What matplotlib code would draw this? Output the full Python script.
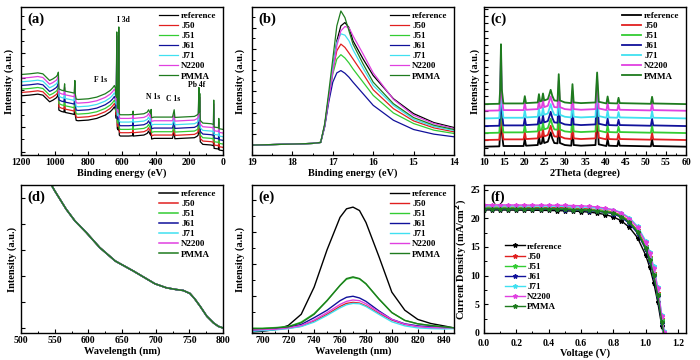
import matplotlib
matplotlib.use("Agg")
import matplotlib.pyplot as plt
import numpy as np
from matplotlib.ticker import MultipleLocator

plt.rcParams['font.family'] = ['Liberation Serif', 'DejaVu Serif']
plt.rcParams['font.weight'] = 'bold'
plt.rcParams['axes.labelweight'] = 'bold'

names = ['reference', 'J50', 'J51', 'J61', 'J71', 'N2200', 'PMMA']
colors = ['#000000', '#e02020', '#33cc33', '#10109a', '#40e0f0', '#e040e0', '#1e7b1e']

# (a) XPS survey: reference profile + stacking offsets
energy_a = [1200, 1150, 1100, 1070, 1040, 1030, 1010, 990, 982, 978, 975, 960, 945, 941, 938,
            900, 884, 880, 877, 872, 860, 800, 750, 700, 670, 655, 645, 638, 634, 631, 628,
            622, 619, 616, 610, 560, 536, 534, 532, 470, 450, 442, 436, 430, 427, 424, 410,
            300, 290, 286, 170, 155, 147, 143, 140, 138, 135, 120, 70, 57, 55, 53, 27, 25, 23, 0]
survey_a = [178, 180, 183, 180, 165, 160, 165, 172, 178, 185, 135, 131, 129, 150, 128,
            124, 122, 160, 118, 104, 103, 105, 110, 120, 130, 138, 145, 135, 110, 306, 80,
            75, 321, 60, 57, 57, 58, 68, 57, 60, 65, 72, 65, 60, 73, 48, 50,
            50, 72, 49, 52, 56, 60, 139, 65, 121, 40, 32, 30, 28, 101, 20, 18, 46, 15, 13]
offsets_a = [0, 10, 20, 31, 42, 53, 64]

# (b) UPS cut-off region
energy_b = [19, 18, 17.5, 17.3, 17.2, 17.1, 17.0, 16.9, 16.8, 16.7, 16.6, 16.5, 16.25, 16.0, 15.5, 15.0, 14.5, 14.0]
ups_b = {
    'reference': [30, 33, 35, 38, 90, 175, 260, 345, 390, 400, 385, 345, 290, 240, 170, 125, 98, 83],
    'J50': [30, 33, 35, 38, 90, 175, 255, 315, 335, 325, 308, 290, 245, 197, 140, 103, 82, 70],
    'J51': [30, 33, 35, 38, 88, 170, 245, 290, 303, 293, 278, 260, 220, 180, 127, 95, 75, 65],
    'J61': [30, 33, 35, 38, 85, 160, 220, 248, 255, 247, 235, 220, 185, 150, 105, 77, 63, 55],
    'J71': [30, 33, 35, 38, 90, 178, 265, 340, 366, 362, 345, 318, 262, 210, 150, 108, 86, 74],
    'N2200': [30, 33, 35, 38, 88, 170, 250, 330, 375, 388, 385, 360, 305, 248, 168, 120, 95, 80],
    'PMMA': [30, 33, 35, 38, 95, 190, 290, 390, 435, 415, 375, 335, 275, 220, 155, 113, 90, 77],
}

# (c) XRD: reference pattern + stacking offsets
theta_c = [10, 13.8, 14.0, 14.2, 14.4, 14.8, 19.8, 20.1, 20.4, 23.3, 23.6, 23.9, 24.3, 24.6, 24.9,
           25.8, 26.2, 26.5, 26.9, 27.4, 28.2, 28.5, 28.8, 30, 31.6, 31.9, 32.2, 34, 37.6, 38.0,
           38.4, 40.3, 40.6, 40.9, 43.0, 43.3, 43.6, 51.3, 51.6, 51.9, 60]
xrd_c = [25, 26, 70, 205, 70, 27, 27, 49, 28, 30, 55, 33, 35, 57, 36,
         40, 55, 68, 50, 36, 35, 115, 36, 30, 28, 85, 30, 28, 30, 120,
         32, 27, 48, 28, 27, 44, 28, 26, 47, 27, 25]
offsets_c = [0, 20, 41, 62, 85, 108, 128]

# (d) absorption (all samples overlap)
wl_d = [540, 550, 567, 580, 597, 617, 640, 667, 699, 716, 730, 741, 751, 758, 766, 776, 786, 793, 800]
abs_d = [460, 425, 370, 335, 300, 255, 215, 185, 147, 135, 130, 127, 118, 102, 80, 50, 30, 20, 15]

# (e) PL
wl_e = [692, 700, 710, 720, 730, 740, 750, 760, 765, 770, 775, 780, 790, 800, 810, 820, 830, 840, 848]
pl_e = {
    'reference': [3, 5, 10, 22, 55, 135, 245, 340, 365, 370, 360, 325, 225, 120, 67, 40, 28, 21, 15],
    'J50': [10, 10, 11, 14, 20, 35, 55, 78, 87, 90, 88, 80, 58, 38, 25, 19, 16, 15, 15],
    'J51': [14, 14, 16, 19, 32, 57, 96, 140, 158, 163, 159, 144, 100, 60, 37, 27, 22, 18, 15],
    'J61': [7, 9, 12, 17, 25, 45, 67, 95, 105, 108, 103, 93, 65, 40, 27, 21, 18, 16, 15],
    'J71': [5, 7, 9, 13, 19, 32, 52, 74, 83, 87, 86, 78, 55, 33, 21, 15, 13, 12, 13],
    'N2200': [9, 10, 11, 15, 22, 38, 60, 84, 93, 97, 95, 86, 62, 40, 26, 19, 16, 15, 15],
    'PMMA': [13, 13, 15, 18, 30, 55, 95, 140, 160, 165, 160, 145, 100, 60, 37, 27, 22, 18, 15],
}

# (f) J-V curves
volt_f = [0, 0.05, 0.1, 0.15, 0.2, 0.25, 0.3, 0.35, 0.4, 0.45, 0.5, 0.55, 0.6, 0.65, 0.7, 0.75,
          0.8, 0.85, 0.9, 0.95, 1.0, 1.025, 1.05, 1.075, 1.1, 1.115]
jv_f = {
    'reference': [21.45, 21.45, 21.44, 21.43, 21.42, 21.41, 21.4, 21.38, 21.36, 21.33, 21.3, 21.25, 21.18,
                  21.07, 20.9, 20.65, 20.25, 19.55, 18.4, 16.6, 13.6, 11.5, 8.8, 5.4, 1.2, -1.0],
    'J50': [21.95, 21.95, 21.94, 21.93, 21.92, 21.91, 21.9, 21.89, 21.87, 21.85, 21.82, 21.77, 21.7,
            21.62, 21.5, 21.35, 21.1, 20.5, 19.5, 17.9, 15.2, 13.2, 10.5, 7.0, 2.4, -0.2],
    'J51': [21.8, 21.8, 21.79, 21.78, 21.77, 21.76, 21.75, 21.74, 21.72, 21.7, 21.67, 21.62, 21.56,
            21.48, 21.37, 21.22, 21.0, 20.4, 19.4, 17.8, 15.0, 13.0, 10.3, 6.8, 2.2, -0.4],
    'J61': [21.65, 21.65, 21.64, 21.63, 21.62, 21.61, 21.6, 21.59, 21.57, 21.55, 21.52, 21.47, 21.4,
            21.32, 21.2, 21.03, 20.8, 20.15, 19.1, 17.4, 14.6, 12.6, 9.9, 6.4, 1.8, -0.8],
    'J71': [22.2, 22.2, 22.19, 22.18, 22.17, 22.16, 22.15, 22.14, 22.12, 22.1, 22.07, 22.03, 21.97,
            21.9, 21.8, 21.68, 21.5, 21.0, 20.1, 18.6, 16.1, 14.2, 11.6, 8.0, 3.2, 0.3],
    'N2200': [22.35, 22.35, 22.34, 22.33, 22.32, 22.31, 22.3, 22.29, 22.28, 22.27, 22.25, 22.22, 22.18,
              22.1, 21.97, 21.78, 21.45, 20.9, 19.95, 18.4, 15.8, 13.9, 11.3, 7.8, 3.0, 0.1],
    'PMMA': [21.7, 21.7, 21.69, 21.68, 21.67, 21.66, 21.65, 21.64, 21.62, 21.6, 21.57, 21.52, 21.45,
             21.37, 21.25, 21.08, 20.9, 20.3, 19.3, 17.6, 14.8, 12.8, 10.1, 6.6, 2.0, -0.6],
}

fig = plt.figure(figsize=(7, 3.6), dpi=100)
W, H = 700.0, 360.0
cols = [21, 252, 484]
rows = [155, 333]
aw, ah = 202, 148
axs = []
for r in rows:
    for c in cols:
        axs.append(fig.add_axes([c / W, 1 - r / H, aw / W, ah / H]))
ax_a, ax_b, ax_c, ax_d, ax_e, ax_f = axs

tick_fs = 7
lab_fs = 7.5
leg_fs = 6.5


def style(ax, letter, ylabel='Intensity (a.u.)', ylabels=False):
    ax.tick_params(which='both', direction='in', top=False, right=False, labelsize=tick_fs, pad=2)
    ax.tick_params(which='major', length=3, width=0.8)
    ax.tick_params(which='minor', length=1.8, width=0.7)
    if not ylabels:
        ax.tick_params(labelleft=False)
    for s in ax.spines.values():
        s.set_linewidth(1.0)
    ax.set_ylabel(ylabel, fontsize=lab_fs, labelpad=3 if not ylabels else 1)
    ax.xaxis.labelpad = 1
    ax.text(0.03, 0.96, letter, transform=ax.transAxes, ha='left', va='top', fontsize=10.5, fontweight='bold')


def legend(ax, **kw):
    leg = ax.legend(frameon=False, fontsize=leg_fs, handlelength=2.2, handletextpad=0.3,
                    labelspacing=0.2, borderaxespad=0.1, **kw)
    return leg


# (a)
for i, n in enumerate(names):
    ax_a.plot(energy_a, np.array(survey_a) + offsets_a[i], color=colors[i], lw=0.9, label=n)
ax_a.set_xlim(1200, 0)
ax_a.set_ylim(0, 445)
ax_a.xaxis.set_major_locator(MultipleLocator(200))
ax_a.xaxis.set_minor_locator(MultipleLocator(100))
ax_a.set_yticks(np.arange(10, 445, 74))
ax_a.set_yticks(np.arange(47, 445, 74), minor=True)
ax_a.set_xlabel('Binding energy (eV)', fontsize=lab_fs)
for txt, ex, ey in [('I 3d', 593, 407), ('F 1s', 726, 225), ('N 1s', 414, 173), ('C 1s', 294, 167), ('Pb 4f', 159, 210)]:
    ax_a.text(ex, ey, txt, fontsize=5.5, ha='center', va='center', fontweight='bold')
style(ax_a, '(a)')
legend(ax_a, loc='upper right', bbox_to_anchor=(0.99, 1.0))

# (b)
for i, n in enumerate(names):
    ax_b.plot(energy_b, ups_b[n], color=colors[i], lw=0.9, label=n)
ax_b.set_xlim(19, 14)
ax_b.set_ylim(0, 447)
ax_b.xaxis.set_major_locator(MultipleLocator(1))
ax_b.xaxis.set_minor_locator(MultipleLocator(0.5))
ax_b.yaxis.set_major_locator(MultipleLocator(64))
ax_b.yaxis.set_minor_locator(MultipleLocator(32))
ax_b.set_xlabel('Binding energy (eV)', fontsize=lab_fs)
style(ax_b, '(b)')
legend(ax_b, loc='upper right', bbox_to_anchor=(0.99, 1.0))

# (c)
for i, n in enumerate(names):
    ax_c.plot(theta_c, np.array(xrd_c) + offsets_c[i], color=colors[i], lw=1.3, label=n)
ax_c.set_xlim(10, 60)
ax_c.set_ylim(0, 445)
ax_c.xaxis.set_major_locator(MultipleLocator(5))
ax_c.xaxis.set_minor_locator(MultipleLocator(2.5))
ax_c.yaxis.set_major_locator(MultipleLocator(22))
ax_c.set_xlabel('2Theta (degree)', fontsize=lab_fs)
style(ax_c, '(c)')
legend(ax_c, loc='upper right', bbox_to_anchor=(0.99, 1.0))

# (d)
for i, n in enumerate(names):
    ax_d.plot(wl_d, abs_d, color=colors[i], lw=1.1, label=n)
ax_d.set_xlim(500, 800)
ax_d.set_ylim(0, 442)
ax_d.xaxis.set_major_locator(MultipleLocator(50))
ax_d.xaxis.set_minor_locator(MultipleLocator(25))
ax_d.set_yticks(np.arange(15, 442, 77.5))
ax_d.set_xlabel('Wavelength (nm)', fontsize=lab_fs)
style(ax_d, '(d)')
legend(ax_d, loc='upper right', bbox_to_anchor=(0.99, 1.0))

# (e)
for i, n in enumerate(names):
    ax_e.plot(wl_e, pl_e[n], color=colors[i], lw=1.0, label=n)
ax_e.set_xlim(692, 848)
ax_e.set_ylim(0, 435)
ax_e.xaxis.set_major_locator(MultipleLocator(20))
ax_e.xaxis.set_minor_locator(MultipleLocator(10))
ax_e.set_yticks(np.arange(15, 435, 94))
ax_e.set_yticks(np.arange(62, 435, 94), minor=True)
ax_e.set_xlabel('Wavelength (nm)', fontsize=lab_fs)
style(ax_e, '(e)')
legend(ax_e, loc='upper right', bbox_to_anchor=(0.99, 1.0))

# (f)
for i, n in enumerate(names):
    ax_f.plot(volt_f, jv_f[n], color=colors[i], lw=1.0, marker='*', ms=3.2, label=n)
ax_f.set_xlim(0, 1.25)
ax_f.set_ylim(0, 25.8)
ax_f.xaxis.set_major_locator(MultipleLocator(0.2))
ax_f.xaxis.set_minor_locator(MultipleLocator(0.1))
ax_f.yaxis.set_major_locator(MultipleLocator(5))
ax_f.yaxis.set_minor_locator(MultipleLocator(2.5))
style(ax_f, '(f)', ylabel='Current Density (mA/cm$^2$)', ylabels=True)
ax_f.tick_params(axis='x', pad=4.5)
ax_f.tick_params(axis='y', pad=3)
ax_f.set_xlabel('Voltage (V)', fontsize=lab_fs, labelpad=0)
legend(ax_f, loc='center left', bbox_to_anchor=(0.08, 0.38))

fig.savefig('out.png', dpi=100)
